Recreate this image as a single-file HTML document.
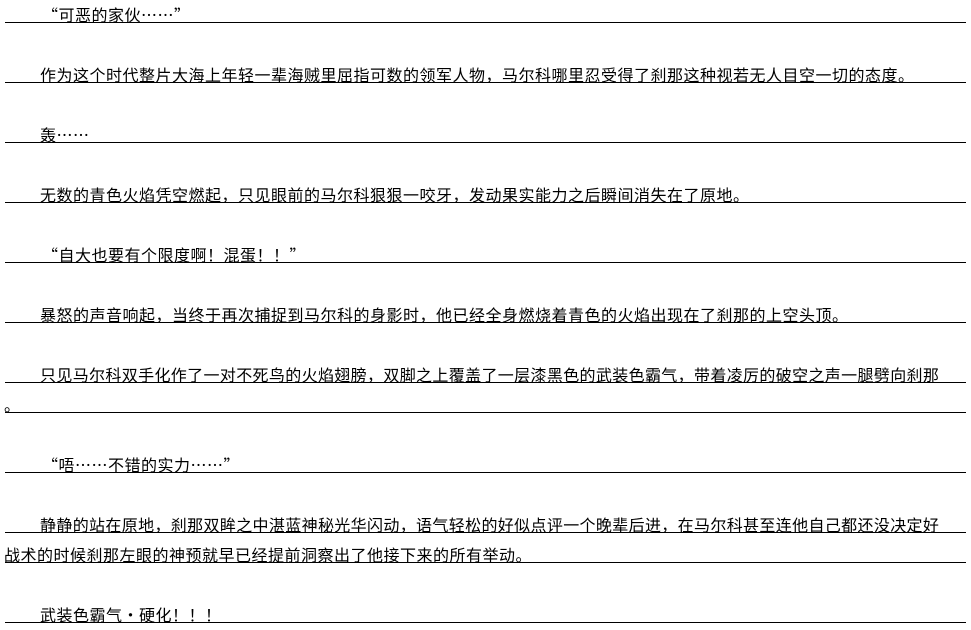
<!DOCTYPE html>
<html><head><meta charset="utf-8"><style>
html,body{margin:0;padding:0;background:#fff;width:971px;height:630px;overflow:hidden;}
.l{position:absolute;left:5px;width:961px;height:0;border-top:1px solid #000;}
.t{position:absolute;white-space:nowrap;font-family:"WenQuanYi Zen Hei","Noto Sans CJK SC",sans-serif;font-size:16px;letter-spacing:0.5px;line-height:16px;color:#000;}
</style></head><body>
<div class="t" style="left:42px;top:6px">“可恶的家伙……”</div><div class="l" style="top:22px"></div>
<div class="t" style="left:40px;top:66px">作为这个时代整片大海上年轻一辈海贼里屈指可数的领军人物，马尔科哪里忍受得了刹那这种视若无人目空一切的态度。</div><div class="l" style="top:82px"></div>
<div class="t" style="left:40px;top:126px">轰……</div><div class="l" style="top:142px"></div>
<div class="t" style="left:40px;top:186px">无数的青色火焰凭空燃起，只见眼前的马尔科狠狠一咬牙，发动果实能力之后瞬间消失在了原地。</div><div class="l" style="top:202px"></div>
<div class="t" style="left:42px;top:246px">“自大也要有个限度啊！混蛋！！”</div><div class="l" style="top:262px"></div>
<div class="t" style="left:40px;top:306px">暴怒的声音响起，当终于再次捕捉到马尔科的身影时，他已经全身燃烧着青色的火焰出现在了刹那的上空头顶。</div><div class="l" style="top:322px"></div>
<div class="t" style="left:40px;top:366px;letter-spacing:0.35px">只见马尔科双手化作了一对不死鸟的火焰翅膀，双脚之上覆盖了一层漆黑色的武装色霸气，带着凌厉的破空之声一腿劈向刹那</div><div class="l" style="top:382px"></div>
<div class="t" style="left:4px;top:396px">。</div><div class="l" style="top:412px"></div>
<div class="t" style="left:42px;top:456px">“唔……不错的实力……”</div><div class="l" style="top:472px"></div>
<div class="t" style="left:40px;top:516px;letter-spacing:0.35px">静静的站在原地，刹那双眸之中湛蓝神秘光华闪动，语气轻松的好似点评一个晚辈后进，在马尔科甚至连他自己都还没决定好</div><div class="l" style="top:532px"></div>
<div class="t" style="left:4px;top:546px">战术的时候刹那左眼的神预就早已经提前洞察出了他接下来的所有举动。</div><div class="l" style="top:562px"></div>
<div class="t" style="left:40px;top:606px">武装色霸气·硬化！！！</div><div class="l" style="top:622px"></div>
</body></html>
